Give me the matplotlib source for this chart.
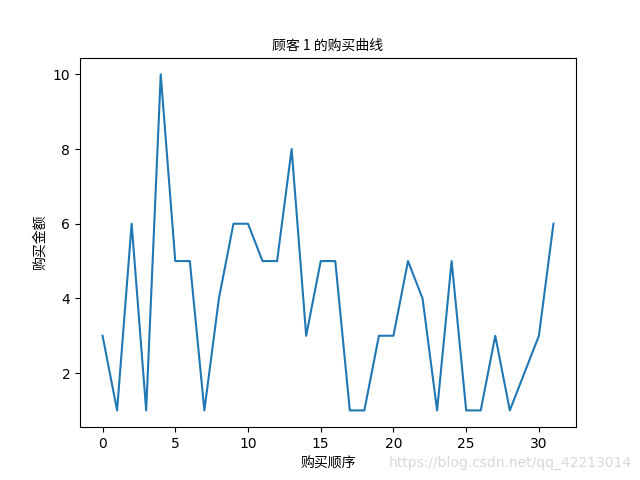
import matplotlib
matplotlib.use("Agg")
import matplotlib.pyplot as plt

plt.rcParams['font.family'] = ['Noto Sans CJK SC', 'DejaVu Sans']

# 顾客 1 的购买金额
orders = list(range(32))
amounts = [3, 1, 6, 1, 10, 5, 5, 1, 4, 6, 6, 5, 5, 8, 3, 5,
           5, 1, 1, 3, 3, 5, 4, 1, 5, 1, 1, 3, 1, 2, 3, 6]

fig = plt.figure(figsize=(6.4, 4.8), dpi=100)
plt.plot(orders, amounts, color='#1f77b4')
plt.title("顾客 1 的购买曲线", fontsize=10)
plt.xlabel("购买顺序", fontsize=10)
plt.ylabel("购买金额", fontsize=10)
plt.xticks(fontfamily='DejaVu Sans')
plt.yticks(fontfamily='DejaVu Sans')
fig.text(0.988, 0.035, "https://blog.csdn.net/qq_42213014", ha='right', va='center',
         fontsize=10, color='#d8d8d8', fontfamily='DejaVu Sans')
plt.savefig("out.png")
